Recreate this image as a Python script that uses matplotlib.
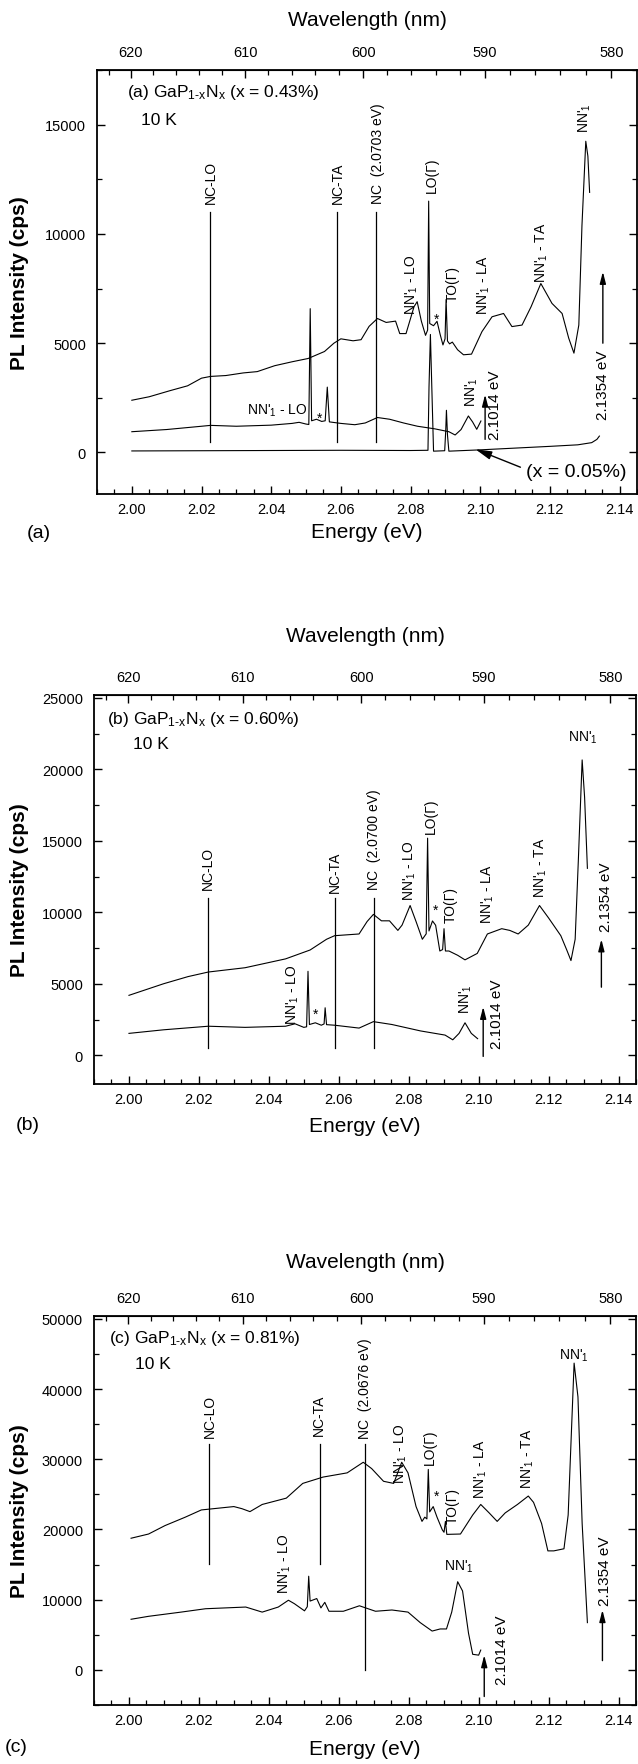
import numpy as np
import matplotlib
matplotlib.use('Agg')
import matplotlib.pyplot as plt
from matplotlib.ticker import MultipleLocator

plt.rcParams['font.family'] = ['Liberation Sans', 'DejaVu Sans']
plt.rcParams['mathtext.fontset'] = 'custom'
plt.rcParams['mathtext.rm'] = 'Liberation Sans'
plt.rcParams['mathtext.default'] = 'regular'

# ---- panel (a): x = 0.43 %, lower trace and x = 0.05 % reference ----
e_a_up = [2.000, 2.005, 2.011, 2.016, 2.020, 2.0226, 2.027, 2.032, 2.036, 2.041,
          2.046, 2.0506, 2.0553, 2.058, 2.060, 2.0635, 2.0658, 2.0681, 2.0705, 2.073,
          2.0757, 2.0769, 2.0787, 2.081, 2.0819, 2.0831, 2.0843, 2.0849, 2.0852, 2.0855,
          2.0866, 2.0876, 2.0885, 2.0893, 2.0899, 2.0902, 2.0906, 2.0912, 2.0920, 2.0935,
          2.0952, 2.0975, 2.1005, 2.1034, 2.1067, 2.1091, 2.112, 2.1146, 2.1174, 2.1206,
          2.1235, 2.1254, 2.1269, 2.1283, 2.1292, 2.1303, 2.1309, 2.1314]
i_a_up = [2390, 2550, 2830, 3050, 3400, 3480, 3520, 3640, 3700, 3970,
          4150, 4300, 4620, 5000, 5200, 5110, 5160, 5770, 6130, 5950,
          6010, 5440, 5440, 6670, 6900, 6010, 5360, 5600, 11500, 5900,
          5800, 6000, 5400, 4920, 5200, 7000, 5100, 4970, 5050, 4700,
          4470, 4500, 5530, 6210, 6360, 5760, 5830, 6670, 7730, 6820,
          6360, 5230, 4545, 5830, 10380, 14240, 13560, 11900]
e_a_lo = [2.000, 2.010, 2.020, 2.0226, 2.030, 2.040, 2.046, 2.048, 2.050, 2.0508,
          2.0512, 2.0516, 2.053, 2.0545, 2.0555, 2.0561, 2.0567, 2.060, 2.064, 2.067,
          2.0705, 2.074, 2.078, 2.082, 2.087, 2.091, 2.0928, 2.0945, 2.0966, 2.0978,
          2.0990, 2.1002]
i_a_lo = [950, 1050, 1200, 1240, 1200, 1250, 1330, 1380, 1300, 1280,
          6580, 1450, 1520, 1420, 1450, 2990, 1400, 1330, 1270, 1350,
          1600, 1520, 1350, 1200, 1080, 950, 800, 1050, 1670, 1400,
          1060, 1440]
e_a_ref = [2.000, 2.020, 2.040, 2.060, 2.080, 2.0850, 2.0853, 2.0857, 2.0861, 2.0866,
           2.0898, 2.0901, 2.0903, 2.0906, 2.0910, 2.100, 2.110, 2.120, 2.128, 2.132,
           2.1335, 2.1342]
i_a_ref = [70, 80, 90, 100, 90, 100, 3000, 5400, 3000, 60,
           80, 1000, 1930, 800, 60, 120, 200, 280, 350, 450,
           600, 750]

# ---- panel (b): x = 0.60 % ----
e_b_up = [2.0000, 2.0099, 2.0169, 2.0227, 2.0332, 2.0448, 2.0518, 2.0565, 2.0588, 2.0658,
          2.0681, 2.0699, 2.0722, 2.0745, 2.0769, 2.0781, 2.0804, 2.0821, 2.0839, 2.0850,
          2.0854, 2.0858, 2.0868, 2.0877, 2.0889, 2.0897, 2.0901, 2.0905, 2.0915, 2.0940,
          2.0961, 2.0996, 2.1025, 2.1066, 2.1089, 2.1113, 2.1142, 2.1174, 2.1200, 2.1235,
          2.1252, 2.1264, 2.1276, 2.1285, 2.1296, 2.1303, 2.1311]
i_b_up = [4200, 5010, 5510, 5830, 6130, 6750, 7370, 8120, 8370, 8490,
          9360, 9860, 9410, 9410, 8740, 9110, 10480, 9360, 8120, 8500,
          15190, 8700, 9400, 9100, 7300, 7400, 8860, 7300, 7300, 7000,
          6680, 7130, 8490, 8860, 8740, 8490, 9110, 10480, 9610, 8370,
          7370, 6630, 8120, 13580, 20660, 18050, 13080]
e_b_lo = [2.0000, 2.0099, 2.0227, 2.0332, 2.0448, 2.0475, 2.0500, 2.0508, 2.0512, 2.0516,
          2.0533, 2.0550, 2.0558, 2.0561, 2.0565, 2.0588, 2.0658, 2.0699, 2.0752, 2.0834,
          2.0904, 2.0926, 2.0944, 2.0961, 2.0979, 2.0997]
i_b_lo = [1540, 1790, 2040, 1960, 2040, 2210, 1960, 2000, 5880, 2160,
          2280, 2110, 2200, 3330, 2150, 2110, 1910, 2360, 2160, 1710,
          1420, 1090, 1540, 2280, 1540, 1170]

# ---- panel (c): x = 0.81 % ----
e_c_up = [2.0006, 2.0056, 2.0103, 2.0161, 2.0207, 2.0242, 2.0300, 2.0323, 2.0346, 2.0381,
          2.0450, 2.0497, 2.0555, 2.0624, 2.0670, 2.0694, 2.0728, 2.0757, 2.0780, 2.0798,
          2.0821, 2.0838, 2.0846, 2.0852, 2.0856, 2.0860, 2.0870, 2.0881, 2.0896, 2.0901,
          2.0905, 2.0909, 2.0948, 2.0983, 2.1006, 2.1030, 2.1053, 2.1076, 2.1111, 2.1142,
          2.1157, 2.1180, 2.1198, 2.1215, 2.1244, 2.1256, 2.1273, 2.1284, 2.1296, 2.1311]
i_c_up = [18750, 19350, 20550, 21750, 22780, 22960, 23260, 22960, 22540, 23560,
          24460, 26560, 27460, 28060, 29570, 28670, 26860, 26560, 29570, 28060,
          23260, 21150, 21750, 21500, 28550, 22500, 23260, 21750, 19950, 19600,
          21150, 19300, 19350, 22060, 23560, 22360, 21150, 22360, 23560, 24760,
          23860, 20850, 16950, 16950, 17250, 22060, 43690, 38880, 20850, 6730]
e_c_lo = [2.0006, 2.0056, 2.0149, 2.0219, 2.0334, 2.0381, 2.0427, 2.0456, 2.0473, 2.0502,
          2.0510, 2.0514, 2.0518, 2.0537, 2.0549, 2.0560, 2.0572, 2.0613, 2.0659, 2.0705,
          2.0752, 2.0798, 2.0833, 2.0867, 2.0890, 2.0908, 2.0923, 2.0940, 2.0954, 2.0971,
          2.0983, 2.1000, 2.1006]
i_c_lo = [7210, 7630, 8230, 8710, 8950, 8230, 8950, 9920, 9430, 8410,
          9000, 13340, 9800, 10160, 8830, 9620, 8350, 8350, 9130, 8350,
          8530, 8230, 6730, 5530, 5830, 5830, 8230, 12560, 11240, 5230,
          2220, 2100, 2820]

# marker lines: energy, bottom, top
marks_a = [(2.0224, 500, 11000), (2.0588, 500, 11000), (2.0702, 500, 11000)]
marks_b = [(2.0227, 550, 11000), (2.0588, 550, 11000), (2.0702, 550, 11000)]
marks_c = [(2.0230, 15140, 32150), (2.0546, 15140, 32150), (2.0676, 0, 32150)]

NN = "NN'$_1$"
# text, energy, intensity, rotation, ha, va
labels_a = [("NC-LO", 2.0227, 11400, 90, 'center', 'bottom'),
            ("NC-TA", 2.0590, 11400, 90, 'center', 'bottom'),
            ("NC  (2.0703 eV)", 2.0706, 11400, 90, 'center', 'bottom'),
            ("LO(Γ)", 2.0862, 11900, 90, 'center', 'bottom'),
            (NN + " - LO", 2.0804, 6340, 90, 'center', 'bottom'),
            ("TO(Γ)", 2.0921, 6910, 90, 'center', 'bottom'),
            (NN + " - LA", 2.1009, 6340, 90, 'center', 'bottom'),
            (NN + " - TA", 2.1178, 7810, 90, 'center', 'bottom'),
            (NN, 2.1301, 15330, 90, 'center', 'center'),
            ("*", 2.0874, 6100, 0, 'center', 'center'),
            (NN + " - LO", 2.0418, 1930, 0, 'center', 'center'),
            ("*", 2.0538, 1600, 0, 'center', 'center'),
            (NN, 2.0976, 2800, 90, 'center', 'center')]
labels_b = [("NC-LO", 2.0227, 11600, 90, 'center', 'bottom'),
            ("NC-TA", 2.0588, 11400, 90, 'center', 'bottom'),
            ("NC  (2.0700 eV)", 2.0702, 11600, 90, 'center', 'bottom'),
            (NN + " - LO", 2.0804, 10850, 90, 'center', 'bottom'),
            ("LO(Γ)", 2.0864, 15570, 90, 'center', 'bottom'),
            ("*", 2.0877, 10200, 0, 'center', 'center'),
            ("TO(Γ)", 2.0920, 9360, 90, 'center', 'bottom'),
            (NN + " - LA", 2.1025, 9240, 90, 'center', 'bottom'),
            (NN + " - TA", 2.1177, 11100, 90, 'center', 'bottom'),
            (NN, 2.1299, 22270, 0, 'center', 'center'),
            (NN + " - LO", 2.0469, 2200, 90, 'center', 'bottom'),
            ("*", 2.0533, 2900, 0, 'center', 'center'),
            (NN, 2.0964, 4020, 90, 'center', 'center')]
labels_c = [("NC-LO", 2.0230, 33170, 90, 'center', 'bottom'),
            ("NC-TA", 2.0543, 33470, 90, 'center', 'bottom'),
            ("NC  (2.0676 eV)", 2.0676, 33050, 90, 'center', 'bottom'),
            (NN + " - LO", 2.0776, 26560, 90, 'center', 'bottom'),
            ("LO(Γ)", 2.0860, 29270, 90, 'center', 'bottom'),
            ("*", 2.0879, 24800, 0, 'center', 'center'),
            ("TO(Γ)", 2.0925, 20850, 90, 'center', 'bottom'),
            (NN + " - LA", 2.1006, 24460, 90, 'center', 'bottom'),
            (NN + " - TA", 2.1140, 25960, 90, 'center', 'bottom'),
            (NN, 2.1273, 44890, 0, 'center', 'center'),
            (NN, 2.0944, 14840, 0, 'center', 'center'),
            (NN + " - LO", 2.0447, 10940, 90, 'center', 'bottom')]

# arrows: energy, from, to ; eV text: text, energy, intensity
arrows_a = [(2.1014, 600, 2650), (2.1352, 5000, 8270)]
arrows_b = [(2.1013, -70, 3400), (2.1351, 4770, 8120)]
arrows_c = [(2.1016, -3790, 2100), (2.1354, 1320, 8530)]
evtext_a = [("2.1014 eV", 2.1041, 2200), ("2.1354 eV", 2.1353, 3100)]
evtext_b = [("2.1014 eV", 2.1052, 2980), ("2.1354 eV", 2.1364, 11100)]
evtext_c = [("2.1014 eV", 2.1066, 3000), ("2.1354 eV", 2.1362, 14120)]

titles = [r"(a) GaP$_{\text{1-x}}$N$_x$ (x = 0.43%)", r"(b) GaP$_{\text{1-x}}$N$_x$ (x = 0.60%)",
          r"(c) GaP$_{\text{1-x}}$N$_x$ (x = 0.81%)"]
title_pos = [(1.9986, 16500, 2.0026, 15230), (1.9936, 23590, 2.0011, 21820),
             (1.9943, 47300, 2.0016, 43690)]
ylims = [(-1900, 17500), (-2000, 25200), (-5000, 50400)]
ymajor = [5000, 5000, 10000]
yminor = [2500, 2500, 5000]

W, H = 638, 1765
boxes = [(97, 71, 637, 495), (94, 696, 636, 1085), (94, 1317, 636, 1706)]
energy_y = [533, 1127, 1750]
wave_y = [20, 637, 1263]
letters = [("(a)", 39, 533), ("(b)", 28, 1125), ("(c)", 16, 1748)]


def ev2nm(e):
    e = np.asarray(e, dtype=float)
    with np.errstate(divide='ignore', invalid='ignore'):
        return 1239.84 / e


fig = plt.figure(figsize=(W / 100, H / 100), dpi=100)

panels = [
    ([(e_a_up, i_a_up), (e_a_lo, i_a_lo), (e_a_ref, i_a_ref)], marks_a, labels_a, arrows_a, evtext_a),
    ([(e_b_up, i_b_up), (e_b_lo, i_b_lo)], marks_b, labels_b, arrows_b, evtext_b),
    ([(e_c_up, i_c_up), (e_c_lo, i_c_lo)], marks_c, labels_c, arrows_c, evtext_c),
]

for k, (curves, marks, labs, arrs, evt) in enumerate(panels):
    x0, y0, x1, y1 = boxes[k]
    ax = fig.add_axes([x0 / W, 1 - y1 / H, (x1 - x0) / W, (y1 - y0) / H])
    for e, i in curves:
        ax.plot(e, i, color='black', lw=0.8)
    for e, lo, hi in marks:
        ax.plot([e, e], [lo, hi], color='black', lw=0.9)
    for txt, e, i, rot, ha, va in labs:
        ax.text(e, i, txt, rotation=rot, ha=ha, va=va, fontsize=10)
    for e, a, b in arrs:
        ax.annotate('', xy=(e, b), xytext=(e, a),
                    arrowprops=dict(arrowstyle='-|>,head_length=0.7,head_width=0.18',
                                    color='black', lw=1.0, shrinkA=0, shrinkB=0))
    for txt, e, i in evt:
        ax.text(e, i, txt, rotation=90, ha='center', va='center', fontsize=11)

    tx, ty, kx, ky = title_pos[k]
    ax.text(tx, ty, titles[k], fontsize=12.5, ha='left', va='center')
    ax.text(kx, ky, "10 K", fontsize=12.5, ha='left', va='center')

    ax.set_xlim(1.99, 2.145)
    ax.set_ylim(*ylims[k])
    ax.xaxis.set_major_locator(MultipleLocator(0.02))
    ax.xaxis.set_minor_locator(MultipleLocator(0.005))
    ax.yaxis.set_major_locator(MultipleLocator(ymajor[k]))
    ax.yaxis.set_minor_locator(MultipleLocator(yminor[k]))
    ax.xaxis.set_major_formatter(plt.FuncFormatter(lambda v, p: f"{v:.2f}"))
    ax.tick_params(axis='x', which='both', direction='in', top=False, bottom=True)
    ax.tick_params(axis='y', which='both', direction='in', left=True, right=True)
    ax.tick_params(which='major', length=6, width=1.0, labelsize=10.5)
    ax.tick_params(which='minor', length=3.5, width=0.9)
    ax.tick_params(axis='x', which='major', pad=6)
    ax.tick_params(axis='y', which='major', pad=8)
    for s in ax.spines.values():
        s.set_linewidth(1.3)

    sec = ax.secondary_xaxis('top', functions=(ev2nm, ev2nm))
    sec.set_xticks([580, 590, 600, 610, 620])
    sec.xaxis.set_minor_locator(MultipleLocator(2))
    sec.tick_params(which='both', direction='in')
    sec.tick_params(which='major', length=6, width=1.0, labelsize=10.5, pad=8)
    sec.tick_params(which='minor', length=3.5, width=0.9)

    xc = (x0 + x1) / 2 / W
    fig.text(xc, 1 - wave_y[k] / H, "Wavelength (nm)", fontsize=15, ha='center', va='center')
    fig.text(xc, 1 - energy_y[k] / H, "Energy (eV)", fontsize=15, ha='center', va='center')
    fig.text(20 / W, 1 - (y0 + y1) / 2 / H, "PL Intensity (cps)", fontsize=15,
             fontweight='bold', rotation=90, ha='center', va='center')
    lt, lx, ly = letters[k]
    fig.text(lx / W, 1 - ly / H, lt, fontsize=14, ha='center', va='center')

# arrow to the x = 0.05 % trace in panel (a)
ax_a = fig.axes[0]
ax_a.annotate('(x = 0.05%)', xy=(2.0986, 150), xytext=(2.1275, -850), fontsize=14,
              ha='center', va='center',
              arrowprops=dict(arrowstyle='-|>,head_length=0.7,head_width=0.18', color='black',
                              lw=1.0, shrinkA=2, shrinkB=0,
                              relpos=(0.0, 0.6)))

fig.savefig('out.png', dpi=100)
